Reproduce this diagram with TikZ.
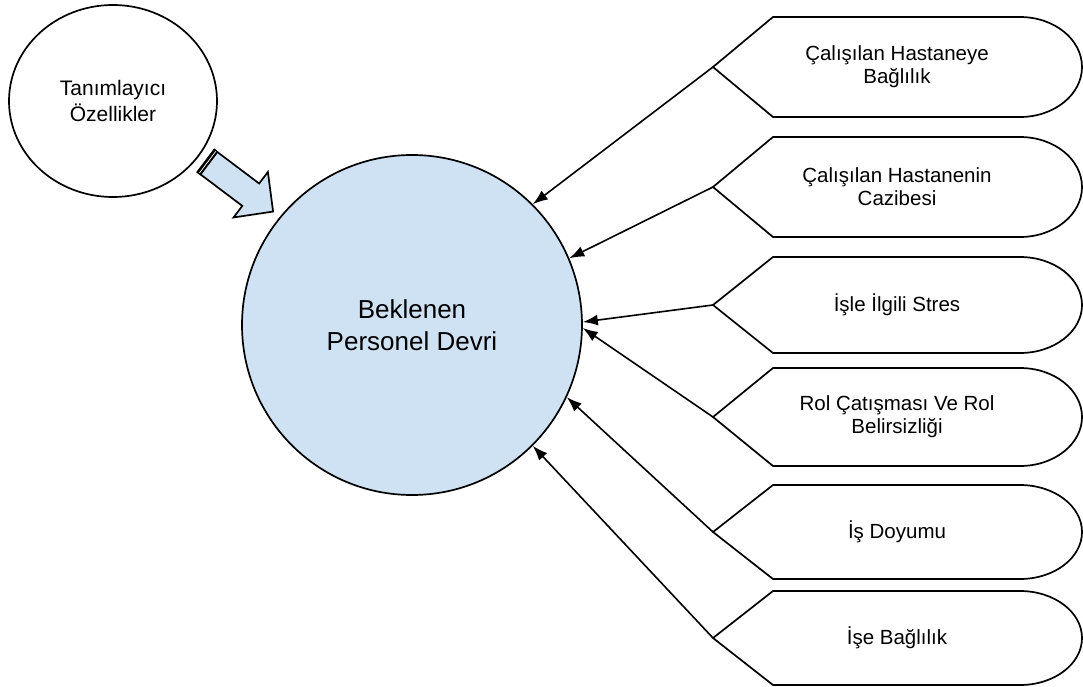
\documentclass[tikz,border=0pt]{standalone}
\usepackage{fontspec}
\setmainfont{Liberation Sans}
\usetikzlibrary{arrows.meta,shapes.geometric,calc}
\definecolor{softblue}{HTML}{CFE2F3}

\begin{document}
\begin{tikzpicture}
[x=1pt,y=-1pt,
    bigcirc/.style={draw,shape=circle,fill=softblue,line width=1.7pt,
    minimum size=340pt,align=center,font=\fontsize{26}{32}\selectfont},
    attr/.style={draw,shape=ellipse,line width=1.7pt,minimum width=208pt,
    minimum height=192pt,align=center,font=\fontsize{21}{26}\selectfont},
    disp/.style={draw,fill=white,line width=1.7pt,line join=miter},
    lab/.style={align=center,font=\fontsize{20.5}{23}\selectfont,inner sep=0pt},
    fatarrow/.style={draw,fill=softblue,line width=1.7pt,line join=miter},
myedge/.style={-{Latex[length=15pt,width=11pt]}, line width=1.6pt}]
\useasboundingbox (0,0) rectangle (1083,687);
%%%%%%%%%%
%% nodes
\node (big) [bigcirc] at (412,325) {Beklenen\\Personel Devri};
\node (tan) [attr] at (113,101) {Tanımlayıcı\\Özellikler};

%% fat arrow
\begin{scope}[shift={(206,161)},rotate=-37]
\draw[fatarrow] (0,-14) -- (56,-14) -- (56,-28.5) -- (84,0) -- (56,28.5)
-- (56,14) -- (0,14) -- cycle;
\fill (-1,-14.8) rectangle (4.5,14.8);
\draw[white,line width=.7pt] (2,-13.5) -- (2,13.5);
\end{scope}

%% factor boxes
\def\tipx{713}
\coordinate (t1) at (\tipx,67);
\coordinate (t2) at (\tipx,187);
\coordinate (t3) at (\tipx,305);
\coordinate (t4) at (\tipx,417);
\coordinate (t5) at (\tipx,532);
\coordinate (t6) at (\tipx,638);
\draw[disp] (t1) -- ++(60,-50) -- ++(247,0)
arc[start angle=-90,end angle=90,x radius=62,y radius=50] -- ++(-247,0) -- cycle;
\draw[disp] (t2) -- ++(60,-50) -- ++(247,0)
arc[start angle=-90,end angle=90,x radius=62,y radius=50] -- ++(-247,0) -- cycle;
\draw[disp] (t3) -- ++(60,-48) -- ++(247,0)
arc[start angle=-90,end angle=90,x radius=62,y radius=48] -- ++(-247,0) -- cycle;
\draw[disp] (t4) -- ++(60,-49) -- ++(247,0)
arc[start angle=-90,end angle=90,x radius=62,y radius=49] -- ++(-247,0) -- cycle;
\draw[disp] (t5) -- ++(60,-47) -- ++(247,0)
arc[start angle=-90,end angle=90,x radius=62,y radius=47] -- ++(-247,0) -- cycle;
\draw[disp] (t6) -- ++(60,-47) -- ++(247,0)
arc[start angle=-90,end angle=90,x radius=62,y radius=47] -- ++(-247,0) -- cycle;
\def\labx{897}
\node (d1) [lab] at (\labx,67) {Çalışılan Hastaneye\\Bağlılık};
\node (d2) [lab] at (\labx,187) {Çalışılan Hastanenin\\Cazibesi};
\node (d3) [lab] at (\labx,305) {İşle İlgili Stres};
\node (d4) [lab] at (\labx,417) {Rol Çatışması Ve Rol\\Belirsizliği};
\node (d5) [lab] at (\labx,532) {İş Doyumu};
\node (d6) [lab] at (\labx,638) {İşe Bağlılık};

%% edges
\draw[myedge] (t1) -- (big.45);
\draw[myedge] (t2) -- (big.23);
\draw[myedge] (t3) -- (big.1);
\draw[myedge] (t4) -- (big.-1);
\draw[myedge] (t5) -- (big.-25);
\draw[myedge] (t6) -- (big.-45);
\end{tikzpicture}
\end{document}
